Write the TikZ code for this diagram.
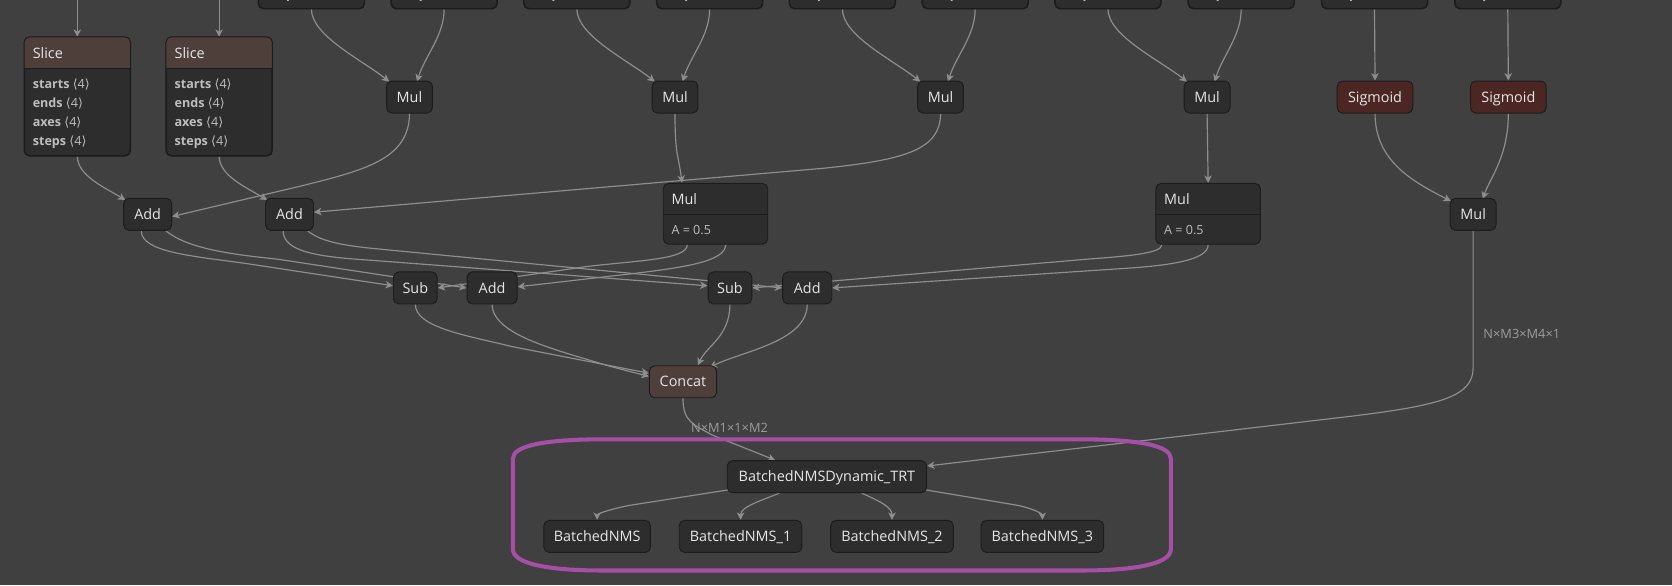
\documentclass[tikz,border=0pt]{standalone}
\usepackage{fontspec}
\setmainfont{Open Sans}
\newfontfamily\dvs{DejaVu Sans}
\usetikzlibrary{arrows.meta,calc}
\definecolor{bgc}{HTML}{404040}
\definecolor{nodefill}{HTML}{2D2D2D}
\definecolor{nodeline}{HTML}{1C1C1C}
\definecolor{hdrbrown}{HTML}{4E3F3B}
\definecolor{hdrred}{HTML}{4B2622}
\definecolor{edgec}{HTML}{8E8E8E}
\definecolor{txt}{HTML}{E6E6E6}
\definecolor{attrc}{HTML}{BDBDBD}
\definecolor{lblc}{HTML}{9C9C9C}
\definecolor{purp}{HTML}{A64FA7}
\pgfdeclarelayer{bglayer}\pgfdeclarelayer{edgelayer}\pgfdeclarelayer{toplayer}
\pgfsetlayers{bglayer,edgelayer,main,toplayer}
\newcommand\nodefont{\fontsize{13.5}{16}\selectfont}
\newcommand\attrfont{\fontsize{11.8}{14}\selectfont}
\newcommand\arow[2]{\textbf{#1} {\dvs ⟨}#2{\dvs ⟩}}
\tikzset{
  op/.style={draw=nodeline, fill=nodefill, line width=0.9, rounded corners=5, minimum height=30, inner sep=0, text=txt, font=\nodefont, text height=9.7, text depth=0},
  bigbox/.style={draw=nodeline, fill=nodefill, line width=0.9, rounded corners=5, inner sep=0},
  hdrtext/.style={anchor=west, inner sep=0, text=txt, font=\nodefont, text height=9.7, text depth=0},
  attrtext/.style={anchor=west, inner sep=0, text=attrc, font=\attrfont, text height=8.5, text depth=0},
  conn/.style={draw=edgec, line width=1.1, -{Stealth[length=7,width=7,inset=2]}},
  elabel/.style={text=lblc, font=\fontsize{12}{14}\selectfont, inner sep=0, anchor=west, text height=8.6, text depth=0},
}
% a Slice node with its four attribute rows
\newcommand\slicenode[3]{%
  \node[bigbox, minimum width=99, minimum height=111] (#1) at (#2,#3) {};
  \begin{scope}
    \clip[rounded corners=5] (#1.north west) rectangle (#1.south east);
    \fill[hdrbrown] (#1.north west) rectangle ($(#1.north east)+(0,30)$);
  \end{scope}
  \draw[nodeline, line width=0.9] ($(#1.north west)+(0,30)$) -- ($(#1.north east)+(0,30)$);
  \draw[nodeline, line width=0.9, rounded corners=5] (#1.north west) rectangle (#1.south east);
  \node[hdrtext] at ($(#1.north west)+(8,15)$) {Slice};
  \node[attrtext] at ($(#1.north west)+(8,44)$) {\arow{starts}{4}};
  \node[attrtext] at ($(#1.north west)+(8,62)$) {\arow{ends}{4}};
  \node[attrtext] at ($(#1.north west)+(8,80)$) {\arow{axes}{4}};
  \node[attrtext] at ($(#1.north west)+(8,98)$) {\arow{steps}{4}};
}
\newcommand\mulnode[3]{%
  \node[bigbox, minimum width=98, minimum height=57] (#1) at (#2,#3) {};
  \draw[nodeline, line width=0.9] ($(#1.north west)+(0,30)$) -- ($(#1.north east)+(0,30)$);
  \node[hdrtext] at ($(#1.north west)+(8,15)$) {Mul};
  \node[attrtext] at ($(#1.north west)+(8,44)$) {A = 0.5};
}
\begin{document}
\begin{tikzpicture}[x=1pt,y=-1pt]
\useasboundingbox (0,0) rectangle (1568,549);
\begin{pgfonlayer}{bglayer}
\fill[bgc] (0,0) rectangle (1568,549);
\end{pgfonlayer}

% top Slice nodes, mostly above the visible area
\slicenode{t1}{292}{-47.5}
\slicenode{t2}{416.5}{-47.5}
\slicenode{t3}{541}{-47.5}
\slicenode{t4}{665.5}{-47.5}
\slicenode{t5}{790}{-47.5}
\slicenode{t6}{914.5}{-47.5}
\slicenode{t7}{1039}{-47.5}
\slicenode{t8}{1164}{-47.5}
\slicenode{t9}{1289}{-47.5}
\slicenode{t10}{1414}{-47.5}

\coordinate (in1) at (72.5,0);
\coordinate (in2) at (205.5,0);
\slicenode{slice1}{72.5}{90.5}
\slicenode{slice2}{205.5}{90.5}

\node[op, minimum width=43] (mula) at (384,91) {Mul};
\node[op, minimum width=43] (mulb) at (633,91) {Mul};
\node[op, minimum width=43] (mulc) at (882,91) {Mul};
\node[op, minimum width=43] (muld) at (1132,91) {Mul};
\node[op, minimum width=71, fill=hdrred] (sig1) at (1289.5,91) {Sigmoid};
\node[op, minimum width=71, fill=hdrred] (sig2) at (1414.5,91) {Sigmoid};

\node[op, minimum width=45] (add1) at (138.5,201) {Add};
\node[op, minimum width=45] (add2) at (271.5,201) {Add};
\mulnode{mule}{671}{200.5}
\mulnode{mulf}{1133}{200.5}
\node[op, minimum width=43] (mulg) at (1381.5,201) {Mul};

\node[op, minimum width=41] (sub1) at (389.5,270) {Sub};
\node[op, minimum width=47] (add3) at (461.5,270) {Add};
\node[op, minimum width=41] (sub2) at (684.5,270) {Sub};
\node[op, minimum width=46] (add4) at (757,270) {Add};

\node[op, minimum width=63, fill=hdrbrown] (concat) at (640.5,358) {Concat};

\node[op, minimum width=187] (bnmsd) at (775.5,447) {BatchedNMSDynamic\_TRT};
\node[op, minimum width=100] (bnms0) at (560,503) {BatchedNMS};
\node[op, minimum width=115] (bnms1) at (694.5,503) {BatchedNMS\_1};
\node[op, minimum width=115] (bnms2) at (836.5,503) {BatchedNMS\_2};
\node[op, minimum width=115] (bnms3) at (977.5,503) {BatchedNMS\_3};

\node[elabel] (lab1) at (648,401) {N×M1×1×M2};
\node[elabel] (lab2) at (1391,313) {N×M3×M4×1};

\begin{pgfonlayer}{edgelayer}
\draw[conn] (in1) -- (slice1.north);
\draw[conn] (in2) -- (slice2.north);
\draw[conn] (t1.south) .. controls +(0,25) and +(-25,-20) .. ($(mula.north)+(-19,1)$);
\draw[conn] (t2.south) .. controls +(0,25) and +(8,-25) .. ($(mula.north)+(7,1)$);
\draw[conn] (t3.south) .. controls +(0,25) and +(-25,-20) .. ($(mulb.north)+(-19,1)$);
\draw[conn] (t4.south) .. controls +(0,25) and +(8,-25) .. ($(mulb.north)+(7,1)$);
\draw[conn] (t5.south) .. controls +(0,25) and +(-25,-20) .. ($(mulc.north)+(-19,1)$);
\draw[conn] (t6.south) .. controls +(0,25) and +(8,-25) .. ($(mulc.north)+(7,1)$);
\draw[conn] (t7.south) .. controls +(0,25) and +(-25,-20) .. ($(muld.north)+(-19,1)$);
\draw[conn] (t8.south) .. controls +(0,25) and +(8,-25) .. ($(muld.north)+(7,1)$);
\draw[conn] (t9.south) -- (sig1.north);
\draw[conn] (t10.south) -- (sig2.north);

\draw[conn] (slice1.south) .. controls +(0,18) and +(-20,-12) .. ($(add1.north west)+(2,2)$);
\draw[conn] (slice2.south) .. controls +(0,18) and +(-20,-12) .. ($(add2.north west)+(2,2)$);
\draw[conn] (mula.south) .. controls (384,150) and (340,160) .. (280,175) -- ($(add1.east)+(0,2)$);
\draw[conn] (mulb.south) .. controls +(0,40) and +(-3,-25) .. ($(mule.north west)+(18,0)$);
\draw[conn] (mulc.south) .. controls (882,140) and (850,150) .. (770,158) -- ($(add2.east)+(0,-2)$);
\draw[conn] (muld.south) -- (mulf.north);
\draw[conn] (sig1.south) .. controls +(0,45) and +(-35,-18) .. ($(mulg.north west)+(1,3)$);
\draw[conn] (sig2.south) .. controls +(0,40) and +(7,-20) .. ($(mulg.north)+(9,1)$);

\draw[conn] ($(add1.south)+(-6,0)$) .. controls +(0,20) and (180,240) .. (230,247) -- ($(sub1.west)+(0,-2)$);
\draw[conn] ($(add1.south east)+(-6,0)$) .. controls (175,232) and (210,238) .. (260,243) -- (add3.west);
\draw[conn] ($(add2.south)+(-6,0)$) .. controls +(0,20) and (300,241) .. (347,244) -- ($(sub2.west)+(0,-2)$);
\draw[conn] ($(add2.south east)+(-6,0)$) .. controls (300,226) and (320,230) .. (350,233) -- (add4.west);
\draw[conn] ($(mule.south west)+(23,0)$) .. controls +(0,14) and (600,244) .. (550,250) -- (sub1.east);
\draw[conn] ($(mule.south west)+(59,0)$) .. controls +(0,16) and (640,251) .. (590,257) -- ($(add3.east)+(0,-1)$);
\draw[conn] ($(mulf.south west)+(6,0)$) .. controls +(0,8) and (1060,240) .. (1020,243) -- (sub2.east);
\draw[conn] (mulf.south) .. controls +(0,14) and (1100,249) .. (1050,252) -- (add4.east);

\draw[conn] (sub1.south) .. controls +(0,22) and (440,315) .. (480,325) -- ($(concat.west)+(0,-8)$);
\draw[conn] (add3.south) .. controls +(0,30) and (530,330) .. (570,343) -- ($(concat.west)+(0,-5)$);
\draw[conn] (sub2.south) .. controls +(0,30) and +(8,-18) .. ($(concat.north)+(14,0)$);
\draw[conn] (add4.south) .. controls +(0,35) and +(30,-15) .. ($(concat.north east)+(-7,2)$);

\draw[conn] (concat.south) .. controls +(0,22) and (650,398) .. (668,408) -- ($(bnmsd.north)+(-48.5,0)$);
\draw[conn] (mulg.south) -- (1381.5,345) .. controls (1381.5,372) and (1350,380) .. (1270,390) -- ($(bnmsd.east)+(0,-10)$);

\draw[conn] ($(bnmsd.south west)+(1,-3)$) -- (590,474) .. controls (570,478) and (560,482) .. (bnms0.north);
\draw[conn] ($(bnmsd.south)+(-44.5,0)$) .. controls +(-20,8) and +(0,-12) .. (bnms1.north);
\draw[conn] ($(bnmsd.south)+(32.5,0)$) .. controls +(18,8) and +(0,-12) .. (bnms2.north);
\draw[conn] ($(bnmsd.south east)+(-1,-3)$) -- (955,474) .. controls (972,478) and (977.5,482) .. (bnms3.north);
\end{pgfonlayer}

\begin{pgfonlayer}{toplayer}
\draw[purp, line width=3.8] (565,412) -- (1014,412) .. controls (1068,412) and (1098,418) .. (1098,430) -- (1098,515) .. controls (1098,528) and (1068,535) .. (1014,535) -- (565,535) .. controls (511,535) and (481,528) .. (481,515) -- (481,430) .. controls (481,418) and (511,412) .. (565,412) -- cycle;
\end{pgfonlayer}
\end{tikzpicture}
\end{document}
